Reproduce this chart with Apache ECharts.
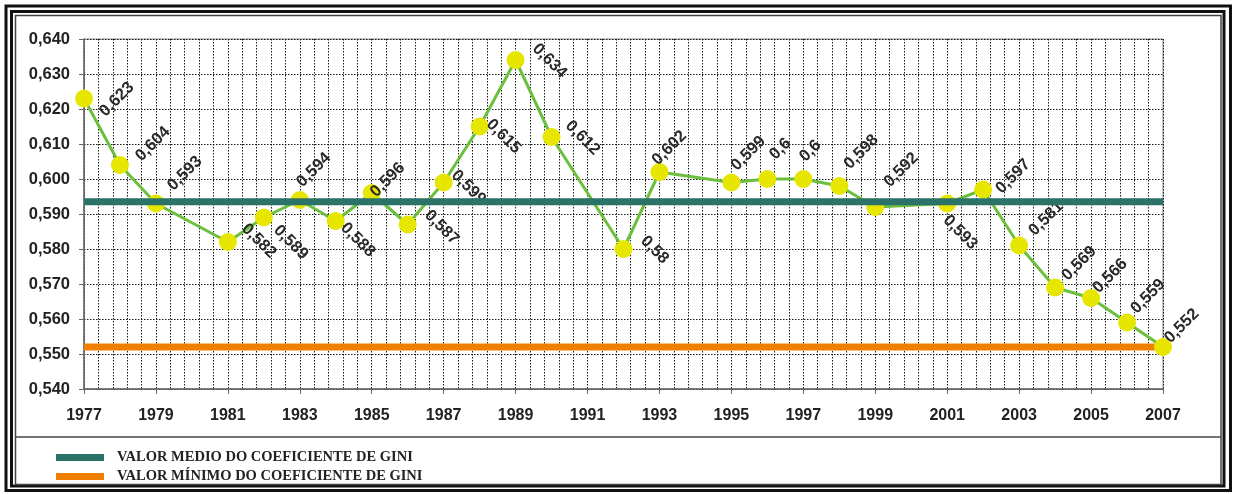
<!DOCTYPE html>
<html>
<head>
<meta charset="utf-8">
<script src="https://cdn.jsdelivr.net/npm/echarts@6/dist/echarts.min.js"></script>
<style>
  html, body { margin: 0; padding: 0; background: #fff; }
  #chart { width: 1236px; height: 494px; }
</style>
</head>
<body>
<div id="chart"></div>
<script>
// anos com dados (faltam 1980, 1991, 1994, 2000)
const years = [1977, 1978, 1979, 1981, 1982, 1983, 1984, 1985, 1986, 1987, 1988, 1989, 1990,
  1992, 1993, 1995, 1996, 1997, 1998, 1999, 2001, 2002, 2003, 2004, 2005, 2006, 2007];
const gini = [0.623, 0.604, 0.593, 0.582, 0.589, 0.594, 0.588, 0.596, 0.587, 0.599, 0.615, 0.634, 0.612,
  0.58, 0.602, 0.599, 0.6, 0.6, 0.598, 0.592, 0.593, 0.597, 0.581, 0.569, 0.566, 0.559, 0.552];
const meanValue = 0.5935;
const minValue = 0.552;
const legendNames = ["VALOR MEDIO DO COEFICIENTE DE GINI", "VALOR MÍNIMO DO COEFICIENTE DE GINI"];

// posição dos rótulos: [dx, dy, sobe(1) / desce(-1)] em pixels, centro do texto relativo ao ponto
const labelPlace = [
  [33, 1, 1], [33, -21, 1], [29, -30, 1], [31, -1, -1], [27, 25, -1], [14, -30, 1], [22, 19, -1],
  [16, -13, 1], [34, 3, -1], [25, 5, -1], [24, 10, -1], [34, 1, -1], [31, 1, -1],
  [31, 1, -1], [10, -24, 1], [17, -29, 1], [13, -30, 1], [7, -28, 1], [22, -34, 1], [26, -37, 1],
  [13, 29, -1], [30, -13, 1], [27, -27, 1], [24, -24, 1], [19, -22, 1], [21, -26, 1], [19, -21, 1]
];

// o offset do rótulo gira junto com o texto, então desfaz a rotação
function rotatedOffset(dx, dy, deg) {
  const r = deg * Math.PI / 180;
  const c = Math.cos(r), s = Math.sin(r);
  return [c * dx - s * dy, s * dx + c * dy];
}

const fmt = v => String(v).replace(".", ",");

const giniData = years.map((y, i) => {
  const p = labelPlace[i];
  const rot = 45 * p[2];
  return {
    value: [y, gini[i]],
    label: {
      rotate: rot,
      offset: rotatedOffset(p[0], p[1], rot)
    }
  };
});

const dotted = { color: "#1a1a1a", type: [1.5, 1.5], width: 1 };

const chart = echarts.init(document.getElementById("chart"));
chart.setOption({
  animation: false,
  backgroundColor: "#fff",
  graphic: [
    { type: "rect", shape: { x: 6, y: 6, width: 1224.5, height: 484.5 }, style: { fill: null, stroke: "#111", lineWidth: 3 } },
    { type: "rect", shape: { x: 11.5, y: 11.5, width: 1212.5, height: 474.5 }, style: { fill: null, stroke: "#111", lineWidth: 3 } },
    { type: "rect", shape: { x: 15.5, y: 15.5, width: 1205.5, height: 469 }, style: { fill: null, stroke: "#444", lineWidth: 1.5 } },
    { type: "line", shape: { x1: 15.5, y1: 437, x2: 1221, y2: 437 }, style: { stroke: "#444", lineWidth: 1.5 } }
  ],
  grid: {
    left: 84, right: 73, top: 39, bottom: 105,
    show: true, borderColor: "#888", borderWidth: 1, backgroundColor: "transparent"
  },
  legend: {
    data: legendNames,
    orient: "vertical",
    left: 51, top: 445,
    icon: "rect",
    itemWidth: 48, itemHeight: 7, itemGap: 4,
    textStyle: {
      fontFamily: "Liberation Serif, Times New Roman, serif",
      fontWeight: "bold", fontSize: 14.5, color: "#222",
      padding: [0, 0, 0, 8]
    }
  },
  xAxis: {
    type: "value",
    min: 1977, max: 2007, interval: 2,
    axisLine: { lineStyle: { color: "#666", width: 1.5 } },
    axisTick: { show: true, length: 5, lineStyle: { color: "#666" } },
    minorTick: { show: false, splitNumber: 5 },
    splitLine: { show: true, lineStyle: dotted },
    minorSplitLine: { show: true, lineStyle: dotted },
    axisLabel: {
      margin: 19,
      fontFamily: "Arial, Liberation Sans, sans-serif",
      fontWeight: "bold", fontSize: 16, color: "#222",
      formatter: v => String(v)
    }
  },
  yAxis: {
    type: "value",
    min: 0.54, max: 0.64, interval: 0.01,
    axisLine: { show: true, lineStyle: { color: "#666", width: 1.5 } },
    axisTick: { show: true, length: 5, lineStyle: { color: "#666" } },
    splitLine: { show: true, lineStyle: dotted },
    axisLabel: {
      margin: 14,
      fontFamily: "Arial, Liberation Sans, sans-serif",
      fontWeight: "bold", fontSize: 16.5, color: "#222",
      formatter: v => v.toFixed(3).replace(".", ",")
    }
  },
  series: [
    {
      name: legendNames[1],
      type: "line",
      data: [[1977, minValue], [2007, minValue]],
      symbol: "none",
      lineStyle: { color: "#f07f00", width: 7 },
      itemStyle: { color: "#f07f00" },
      z: 2
    },
    {
      name: "Gini",
      type: "line",
      data: giniData,
      symbol: "circle",
      symbolSize: 18,
      lineStyle: { color: "#6cbf3c", width: 3 },
      itemStyle: { color: "#e6e600" },
      label: {
        show: true,
        position: "inside",
        align: "center",
        verticalAlign: "middle",
        fontFamily: "Arial, Liberation Sans, sans-serif",
        fontWeight: "bold", fontSize: 16.5, color: "#2a2a2a",
        formatter: p => fmt(p.value[1])
      },
      z: 3
    },
    {
      name: legendNames[0],
      type: "line",
      data: [[1977, meanValue], [2007, meanValue]],
      symbol: "none",
      lineStyle: { color: "#2b7268", width: 7 },
      itemStyle: { color: "#2b7268" },
      z: 5
    }
  ]
});
</script>
</body>
</html>
